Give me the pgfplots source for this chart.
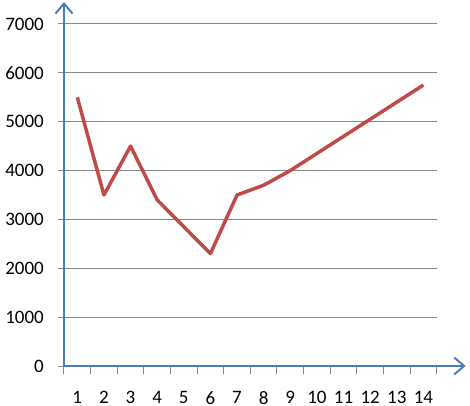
\documentclass[border=0pt]{standalone}
\usepackage{fontspec}
\setmainfont{Carlito}
\usepackage{pgfplots}
\pgfplotsset{compat=1.18}
\usetikzlibrary{arrows.meta}
\definecolor{axblue}{RGB}{74,126,187}
\definecolor{linered}{RGB}{190,75,72}
\definecolor{gridgray}{RGB}{134,134,134}
\begin{document}
\fontsize{19bp}{22bp}\selectfont
\begin{tikzpicture}
\begin{axis}[
  at={(0,0)}, anchor=south west,
  scale only axis, width=372.7bp, height=342bp,
  xmin=0.5, xmax=14.5, ymin=0, ymax=7000,
  axis lines=left,
  axis line style={axblue, line width=2bp},
  x axis line style={-{Straight Barb[length=10bp,width=17bp,line width=2bp]}, shorten >=-29bp},
  y axis line style={-{Straight Barb[length=10bp,width=17bp,line width=2bp]}, shorten >=-22bp},
  tick align=outside,
  xtick={1,...,14},
  minor xtick={0.5,1.5,...,14.5},
  ytick={0,1000,...,7000},
  major x tick style={draw=none},
  minor x tick style={gridgray, line width=1bp},
  major y tick style={gridgray, line width=1bp},
  major tick length=6bp,
  minor tick length=8bp,
  ymajorgrids,
  major grid style={gridgray, line width=1bp},
  yticklabel style={anchor=east, inner sep=0pt, font=\fontsize{19bp}{22bp}\selectfont},
  xticklabel style={anchor=north, inner sep=0pt, font=\fontsize{19bp}{22bp}\selectfont},
  yticklabel shift=14bp,
  xticklabel shift=19bp,
  scaled y ticks=false,
  /pgf/number format/assume math mode=true,
  /pgf/number format/1000 sep={},
  clip=false,
]
\addplot[linered, line width=3.5bp, line join=round, no marks] coordinates {
(1,5500)(2,3500)(3,4500)(4,3400)(5,2850)(6,2300)(7,3500)(8,3700)(9,4000)(10,4350)(11,4700)(12,5050)(13,5400)(14,5750)};
\end{axis}
\pgfresetboundingbox
\path[use as bounding box] (-64bp,-40bp) rectangle (406bp,366bp);
\end{tikzpicture}
\end{document}
